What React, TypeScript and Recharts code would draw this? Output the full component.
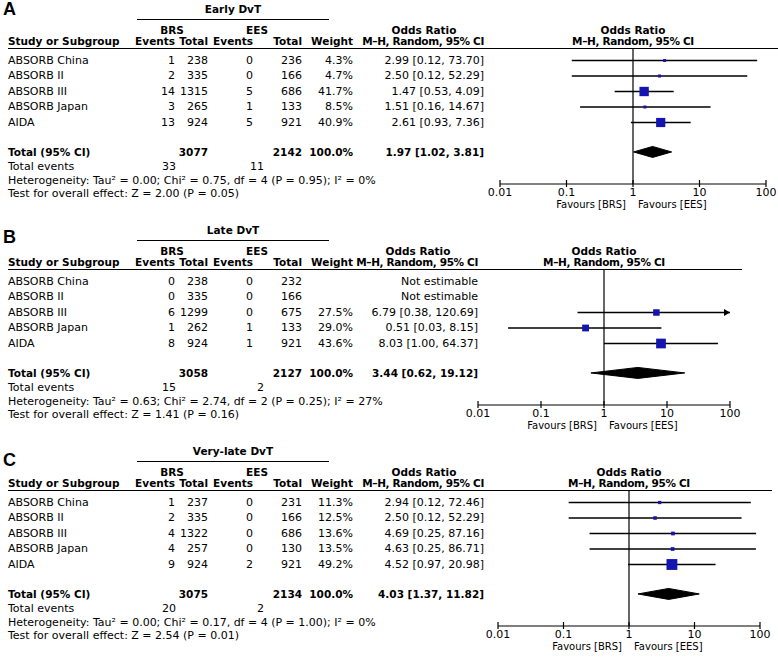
import React from "react";
import { ScatterChart, Scatter, XAxis, YAxis, ReferenceLine } from "recharts";

// Three RevMan-style forest plots: BRS vs EES, device thrombosis.

const studies = ["ABSORB China", "ABSORB II", "ABSORB III", "ABSORB Japan", "AIDA"];
const orTicks = [0.01, 0.1, 1, 10, 100];

// A: Early DvT
const earlyBrsEvents = [1, 2, 14, 3, 13];
const earlyBrsTotal = [238, 335, 1315, 265, 924];
const earlyEesEvents = [0, 0, 5, 1, 5];
const earlyEesTotal = [236, 166, 686, 133, 921];
const earlyWeight = [4.3, 4.7, 41.7, 8.5, 40.9];
const earlyOR = [2.99, 2.5, 1.47, 1.51, 2.61];
const earlyLow = [0.12, 0.12, 0.53, 0.16, 0.93];
const earlyHigh = [73.7, 52.29, 4.09, 14.67, 7.36];
const earlyPooled = [1.97, 1.02, 3.81];
const earlyStats = [
  "Heterogeneity: Tau² = 0.00; Chi² = 0.75, df = 4 (P = 0.95); I² = 0%",
  "Test for overall effect: Z = 2.00 (P = 0.05)",
];

// B: Late DvT
const lateBrsEvents = [0, 0, 6, 1, 8];
const lateBrsTotal = [238, 335, 1299, 262, 924];
const lateEesEvents = [0, 0, 0, 1, 1];
const lateEesTotal = [232, 166, 675, 133, 921];
const lateWeight = [null, null, 27.5, 29.0, 43.6];
const lateOR = [null, null, 6.79, 0.51, 8.03];
const lateLow = [null, null, 0.38, 0.03, 1.0];
const lateHigh = [null, null, 120.69, 8.15, 64.37];
const latePooled = [3.44, 0.62, 19.12];
const lateStats = [
  "Heterogeneity: Tau² = 0.63; Chi² = 2.74, df = 2 (P = 0.25); I² = 27%",
  "Test for overall effect: Z = 1.41 (P = 0.16)",
];

// C: Very-late DvT
const veryBrsEvents = [1, 2, 4, 4, 9];
const veryBrsTotal = [237, 335, 1322, 257, 924];
const veryEesEvents = [0, 0, 0, 0, 2];
const veryEesTotal = [231, 166, 686, 130, 921];
const veryWeight = [11.3, 12.5, 13.6, 13.5, 49.2];
const veryOR = [2.94, 2.5, 4.69, 4.63, 4.52];
const veryLow = [0.12, 0.12, 0.25, 0.25, 0.97];
const veryHigh = [72.46, 52.29, 87.16, 86.71, 20.98];
const veryPooled = [4.03, 1.37, 11.82];
const veryStats = [
  "Heterogeneity: Tau² = 0.00; Chi² = 0.17, df = 4 (P = 1.00); I² = 0%",
  "Test for overall effect: Z = 2.54 (P = 0.01)",
];

const panels = [
  {
    letter: "A", title: "Early DvT",
    brsEvents: earlyBrsEvents, brsTotal: earlyBrsTotal, eesEvents: earlyEesEvents, eesTotal: earlyEesTotal,
    weight: earlyWeight, or: earlyOR, low: earlyLow, high: earlyHigh, pooled: earlyPooled, stats: earlyStats,
    top: 0, letterY: 9, axisStart: 500, axisEnd: 766, orRight: 484,
  },
  {
    letter: "B", title: "Late DvT",
    brsEvents: lateBrsEvents, brsTotal: lateBrsTotal, eesEvents: lateEesEvents, eesTotal: lateEesTotal,
    weight: lateWeight, or: lateOR, low: lateLow, high: lateHigh, pooled: latePooled, stats: lateStats,
    top: 221, letterY: 16, axisStart: 478, axisEnd: 730, orRight: 478,
  },
  {
    letter: "C", title: "Very-late DvT",
    brsEvents: veryBrsEvents, brsTotal: veryBrsTotal, eesEvents: veryEesEvents, eesTotal: veryEesTotal,
    weight: veryWeight, or: veryOR, low: veryLow, high: veryHigh, pooled: veryPooled, stats: veryStats,
    top: 442, letterY: 18, axisStart: 498, axisEnd: 760, orRight: 484,
  },
];

const FONT = "'DejaVu Sans', sans-serif";
const BLUE = "#1414b0";
const ROW0 = 60.5;
const ROW_H = 15.5;
const LINE_Y = 48;
const AXIS_Y = 184;
const TOTAL_ROW = studies.length + 0.9;
const yUnit = (py: number) => (py - ROW0) / ROW_H;
const rowY = (r: number) => ROW0 + r * ROW_H;
const sum = (a: number[]) => a.reduce((s, v) => s + v, 0);
const fmtCI = (o: number, l: number, h: number) =>
  `${o.toFixed(2)} [${l.toFixed(2)}, ${h.toFixed(2)}]`;

// column right edges
const COL = { brsEv: 175, brsTot: 208, eesEv: 253, eesTot: 302, weight: 353 };

function T({ x, y, children, align = "left", bold = false, size, family = FONT, spacing = 0, lh = 14 }: any) {
  const w = 400;
  const left = align === "left" ? x : align === "right" ? x - w : x - w / 2;
  return (
    <div
      style={{
        position: "absolute", left, top: y - lh / 2, width: w, height: lh, lineHeight: `${lh}px`,
        textAlign: align, fontWeight: bold ? 700 : 400, fontSize: size ?? (bold ? 10.5 : 11),
        fontFamily: family, whiteSpace: "nowrap", color: "#000", letterSpacing: spacing,
      }}
    >
      {children}
    </div>
  );
}

function LogTick(props: any) {
  const { x, y, payload } = props;
  return (
    <g>
      <line x1={x} x2={x} y1={y - 4} y2={y + 3} stroke="#000" strokeWidth={1.2} />
      <text x={x} y={y + 8} textAnchor="middle" dominantBaseline="central" fontSize={11} fontFamily={FONT} fill="#000">
        {payload.value}
      </text>
    </g>
  );
}

function Box(props: any) {
  const { cx, cy, payload } = props;
  const s = Math.max(3, 1 + 0.2 * payload.w);
  return <rect x={cx - s / 2} y={cy - s / 2} width={s} height={s} fill={BLUE} />;
}

function CiEnd(props: any) {
  const { cx, cy, payload } = props;
  if (!payload.arrow) return <g />;
  return <path d={`M${cx - 6},${cy - 3.5} L${cx},${cy} L${cx - 6},${cy + 3.5} Z`} fill="#000" />;
}

const Empty = () => <g />;

function Forest({ p }: any) {
  const pad = 20;
  const width = p.axisEnd - p.axisStart + 2 * pad;
  const plotH = AXIS_Y - LINE_Y;
  const boxes = studies
    .map((_, i) => ({ x: p.or[i], y: i, w: p.weight[i] }))
    .filter((d) => d.x != null);
  const cis = studies
    .map((_, i) =>
      p.or[i] == null
        ? null
        : [
            { x: p.low[i], y: i, arrow: false },
            { x: Math.min(p.high[i], 100), y: i, arrow: p.high[i] > 100 },
          ]
    )
    .filter(Boolean) as any[];
  const [po, pl, ph] = p.pooled;
  const dh = 5.5 / ROW_H;
  const diamond = [
    { x: pl, y: TOTAL_ROW },
    { x: po, y: TOTAL_ROW - dh },
    { x: ph, y: TOTAL_ROW },
    { x: po, y: TOTAL_ROW + dh },
    { x: pl, y: TOTAL_ROW },
  ];
  return (
    <div style={{ position: "absolute", left: p.axisStart - pad, top: p.top + LINE_Y }}>
      <ScatterChart width={width} height={plotH + 30} margin={{ top: 0, right: pad, bottom: 0, left: pad }}>
        <XAxis
          type="number"
          dataKey="x"
          scale="log"
          domain={[0.01, 100]}
          allowDataOverflow
          ticks={orTicks}
          interval={0}
          tickSize={0}
          tickMargin={0}
          tickLine={false}
          axisLine={{ stroke: "#000", strokeWidth: 1.2 }}
          tick={<LogTick />}
          height={30}
        />
        <YAxis type="number" dataKey="y" domain={[yUnit(LINE_Y), yUnit(AXIS_Y)]} reversed hide allowDataOverflow />
        <ReferenceLine x={1} stroke="#000" strokeWidth={1.2} />
        {cis.map((d, i) => (
          <Scatter
            key={i}
            data={d}
            line={{ stroke: "#000", strokeWidth: 1.4 }}
            shape={CiEnd}
            isAnimationActive={false}
          />
        ))}
        <Scatter data={boxes} shape={Box} isAnimationActive={false} />
        <Scatter data={diamond} line={{ stroke: "#000", fill: "#000", strokeWidth: 1 }} shape={Empty} isAnimationActive={false} />
      </ScatterChart>
    </div>
  );
}

function Panel({ p }: any) {
  const t = p.top;
  // OR = 1 sits in the middle of the 0.01..100 log axis
  const x1 = (p.axisStart + p.axisEnd) / 2;
  const lineEnd = Math.min(p.axisEnd + 12, 778);
  const orCenter = p.orRight - 60;
  return (
    <>
      <T x={3} y={t + p.letterY} bold size={18} lh={20} family="'Liberation Sans', Arial, sans-serif">{p.letter}</T>
      <T x={233} y={t + 9} align="center" bold>{p.title}</T>
      <div style={{ position: "absolute", left: 137, top: t + 19, width: 192, height: 1, background: "#000" }} />
      <T x={172} y={t + 30} align="center" bold>BRS</T>
      <T x={257} y={t + 30} align="center" bold>EES</T>
      <T x={orCenter} y={t + 30} align="center" bold>Odds Ratio</T>
      <T x={x1} y={t + 30} align="center" bold>Odds Ratio</T>
      <T x={8} y={t + 41} bold>Study or Subgroup</T>
      <T x={COL.brsEv} y={t + 41} align="right" bold>Events</T>
      <T x={COL.brsTot} y={t + 41} align="right" bold>Total</T>
      <T x={COL.eesEv} y={t + 41} align="right" bold>Events</T>
      <T x={COL.eesTot} y={t + 41} align="right" bold>Total</T>
      <T x={COL.weight} y={t + 41} align="right" bold>Weight</T>
      <T x={p.orRight} y={t + 41} align="right" bold spacing={-0.35}>M–H, Random, 95% CI</T>
      <T x={x1} y={t + 41} align="center" bold spacing={-0.35}>M–H, Random, 95% CI</T>
      <div style={{ position: "absolute", left: 8, top: t + LINE_Y - 0.5, width: lineEnd - 8, height: 1.3, background: "#000" }} />
      {studies.map((s, i) => {
        const y = t + rowY(i);
        return (
          <React.Fragment key={s}>
            <T x={8} y={y}>{s}</T>
            <T x={COL.brsEv} y={y} align="right">{p.brsEvents[i]}</T>
            <T x={COL.brsTot} y={y} align="right">{p.brsTotal[i]}</T>
            <T x={COL.eesEv} y={y} align="right">{p.eesEvents[i]}</T>
            <T x={COL.eesTot} y={y} align="right">{p.eesTotal[i]}</T>
            <T x={COL.weight} y={y} align="right">{p.weight[i] == null ? "" : `${p.weight[i].toFixed(1)}%`}</T>
            <T x={p.orRight} y={y} align="right">
              {p.or[i] == null ? "Not estimable" : fmtCI(p.or[i], p.low[i], p.high[i])}
            </T>
          </React.Fragment>
        );
      })}
      <T x={8} y={t + 152} bold>Total (95% CI)</T>
      <T x={COL.brsTot} y={t + 152} align="right" bold>{sum(p.brsTotal)}</T>
      <T x={COL.eesTot} y={t + 152} align="right" bold>{sum(p.eesTotal)}</T>
      <T x={COL.weight} y={t + 152} align="right" bold>100.0%</T>
      <T x={p.orRight} y={t + 152} align="right" bold>{fmtCI(p.pooled[0], p.pooled[1], p.pooled[2])}</T>
      <T x={8} y={t + 167}>Total events</T>
      <T x={COL.brsEv + 1} y={t + 167} align="right">{sum(p.brsEvents)}</T>
      <T x={COL.eesEv + 11} y={t + 167} align="right">{sum(p.eesEvents)}</T>
      <T x={8} y={t + 180} lh={13}>{p.stats[0]}</T>
      <T x={8} y={t + 193} lh={13}>{p.stats[1]}</T>
      <T x={x1 - 7} y={t + AXIS_Y + 20} align="right" size={10} lh={11}>Favours [BRS]</T>
      <T x={x1 + 5} y={t + AXIS_Y + 20} size={10} lh={11}>Favours [EES]</T>
      <Forest p={p} />
    </>
  );
}

export default function App() {
  return (
    <div
      style={{
        position: "absolute", left: 0, top: 0, width: 778, height: 658,
        background: "#fff", overflow: "hidden", fontFamily: FONT,
      }}
    >
      {panels.map((p) => (
        <Panel key={p.letter} p={p} />
      ))}
    </div>
  );
}
